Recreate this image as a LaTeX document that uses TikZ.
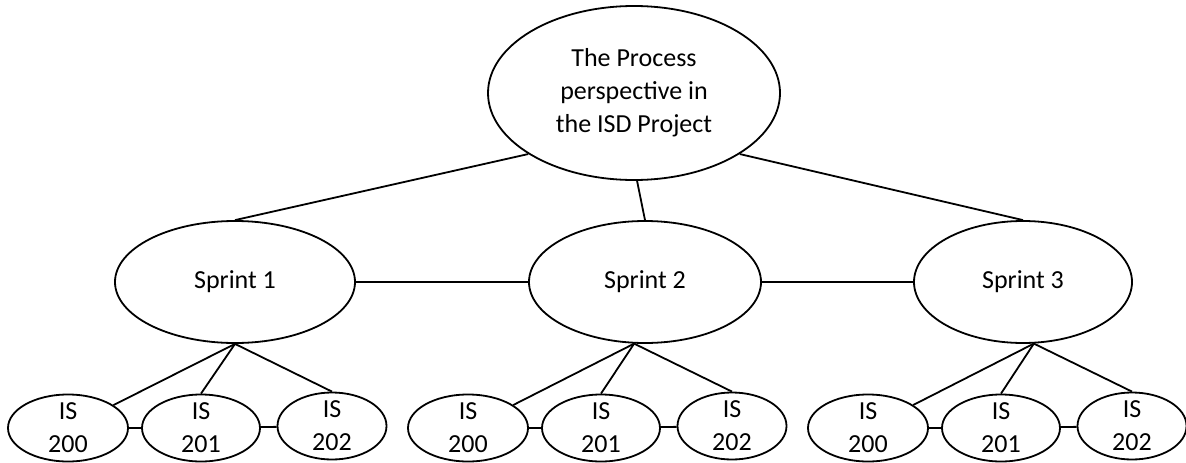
\documentclass[tikz,border=0pt]{standalone}
\usepackage{fontspec}
\setmainfont{Carlito}
\usetikzlibrary{shapes.geometric}
\begin{document}
\begin{tikzpicture}
        [x=1pt, y=-1pt, line width=1.8pt,
        every node/.style={ellipse, draw=black, inner sep=0pt, align=center,
          font=\fontsize{26}{33}\selectfont},
        sprint/.style={minimum height=122pt},
        course/.style={minimum height=67pt, inner ysep=-12pt},
        ]
        \useasboundingbox (0,0) rectangle (1186,463);
        \node[minimum width=292pt, minimum height=174pt] (root) at (634,93)
          {The Process\\perspective in\\the ISD Project};
        \node[sprint, minimum width=240pt] (s1) at (235,282) {Sprint 1};
        \node[sprint, minimum width=232pt] (s2) at (645,282) {Sprint 2};
        \node[sprint, minimum width=218pt] (s3) at (1023,282) {Sprint 3};
        \node[course, minimum width=120pt] (a200) at (68,428) {IS\\200};
        \node[course, minimum width=118pt] (a201) at (201,428) {IS\\201};
        \node[course, minimum width=109pt] (a202) at (332,426) {IS\\202};
        \node[course, minimum width=120pt] (b200) at (468,428) {IS\\200};
        \node[course, minimum width=118pt] (b201) at (601,428) {IS\\201};
        \node[course, minimum width=109pt] (b202) at (732,426) {IS\\202};
        \node[course, minimum width=120pt] (c200) at (868,428) {IS\\200};
        \node[course, minimum width=118pt] (c201) at (1001,428) {IS\\201};
        \node[course, minimum width=109pt] (c202) at (1132,426) {IS\\202};
        \draw (root.210) -- (s1.north);
        \draw (root.272) -- (s2.north);
        \draw (root.-30) -- (s3.north);
        \draw (s1) -- (s2);
        \draw (s2) -- (s3);
        \draw (s1.south) -- (a200);
        \draw (s1.south) -- (a201.north);
        \draw (s1.south) -- (a202.north);
        \draw (s2.260) -- (b200);
        \draw (s2.260) -- (b201.north);
        \draw (s2.260) -- (b202.north);
        \draw (s3.280) -- (c200);
        \draw (s3.280) -- (c201.north);
        \draw (s3.280) -- (c202.north);
        \draw (a200) -- (a201);
        \draw (a201) -- (a202);
        \draw (b200) -- (b201);
        \draw (b201) -- (b202);
        \draw (c200) -- (c201);
        \draw (c201) -- (c202);
\end{tikzpicture}
\end{document}
